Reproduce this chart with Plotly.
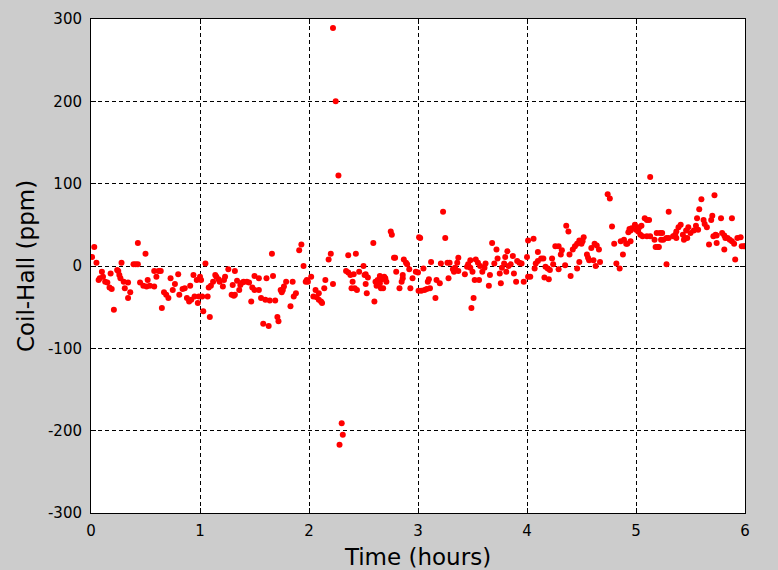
import plotly.graph_objects as go

# Time (hours) and Coil-Hall difference (ppm)
time_h = [
    0.01, 0.03, 0.05, 0.07, 0.08, 0.10, 0.11, 0.13, 0.15, 0.17, 0.18, 0.19, 0.21, 0.24, 0.25, 0.26, 0.27, 0.28,
    0.30, 0.31, 0.34, 0.34, 0.36, 0.39, 0.41, 0.43, 0.43, 0.45, 0.48, 0.50, 0.51, 0.52, 0.54, 0.58, 0.58, 0.60,
    0.62, 0.64, 0.65, 0.67, 0.69, 0.71, 0.73, 0.75, 0.77, 0.80, 0.81, 0.84, 0.86, 0.88, 0.90, 0.91, 0.92, 0.94,
    0.95, 0.97, 0.98,
    0.99, 1.00, 1.01, 1.02, 1.03, 1.05, 1.07, 1.08, 1.09, 1.10, 1.12, 1.14, 1.15, 1.17, 1.18, 1.21, 1.22, 1.23,
    1.26, 1.29, 1.30, 1.31, 1.32, 1.32, 1.34, 1.36, 1.37, 1.39, 1.40, 1.43, 1.45, 1.47, 1.48, 1.50, 1.50, 1.54,
    1.54, 1.56, 1.58, 1.60, 1.61, 1.63, 1.64, 1.66, 1.67, 1.69, 1.71, 1.72, 1.74, 1.75, 1.76, 1.77, 1.79, 1.83,
    1.85, 1.86, 1.88, 1.91, 1.93, 1.95, 1.97, 1.98,
    1.99, 2.02, 2.04, 2.06, 2.07, 2.09, 2.09, 2.11, 2.12, 2.14, 2.15, 2.18, 2.20, 2.22, 2.22, 2.245, 2.27, 2.28,
    2.30, 2.31, 2.34, 2.36, 2.36, 2.38, 2.39, 2.40, 2.41, 2.42, 2.43, 2.44, 2.46, 2.50, 2.51, 2.52, 2.52, 2.53,
    2.54, 2.59, 2.60, 2.61, 2.62, 2.63, 2.65, 2.65, 2.66, 2.67, 2.68, 2.69, 2.70, 2.71, 2.75, 2.76, 2.78, 2.79,
    2.80, 2.83, 2.85, 2.86, 2.86, 2.87, 2.89, 2.90, 2.92, 2.93, 2.95, 2.98,
    3.00, 3.01, 3.02, 3.005, 3.03, 3.05, 3.06, 3.08, 3.09, 3.10, 3.11, 3.12, 3.16, 3.17, 3.20, 3.21, 3.23, 3.25,
    3.27, 3.28, 3.29, 3.32, 3.33, 3.34, 3.36, 3.37, 3.37, 3.43, 3.45, 3.46, 3.48, 3.48, 3.49, 3.50, 3.51, 3.52,
    3.53, 3.55, 3.56, 3.57, 3.59, 3.61, 3.62, 3.65, 3.66, 3.68, 3.70, 3.72, 3.73, 3.75, 3.76, 3.77, 3.79, 3.80,
    3.81, 3.82, 3.83, 3.85, 3.87, 3.88, 3.90, 3.91, 3.93, 3.95, 3.97,
    4.00, 4.01, 4.01, 4.03, 4.06, 4.07, 4.08, 4.10, 4.10, 4.13, 4.15, 4.16, 4.17, 4.19, 4.20, 4.21, 4.23, 4.24,
    4.26, 4.29, 4.29, 4.31, 4.32, 4.35, 4.36, 4.38, 4.39, 4.40, 4.42, 4.44, 4.46, 4.46, 4.48, 4.48, 4.50, 4.51,
    4.52, 4.55, 4.56, 4.57, 4.59, 4.61, 4.62, 4.63, 4.64, 4.66, 4.67, 4.74, 4.76, 4.78, 4.80, 4.82, 4.85, 4.86,
    4.88, 4.89, 4.91, 4.92, 4.93, 4.94, 4.95, 4.95, 4.96, 4.99,
    5.00, 5.02, 5.03, 5.04, 5.05, 5.06, 5.08, 5.10, 5.10, 5.12, 5.13, 5.13, 5.17, 5.18, 5.19, 5.20, 5.21, 5.22,
    5.23, 5.24, 5.25, 5.28, 5.28, 5.30, 5.30, 5.34, 5.36, 5.37, 5.37, 5.39, 5.41, 5.43, 5.44, 5.45, 5.46, 5.47,
    5.48, 5.50, 5.53, 5.55, 5.56, 5.57, 5.58, 5.60, 5.62, 5.63, 5.65, 5.67, 5.69, 5.70, 5.71, 5.72, 5.73, 5.74,
    5.74, 5.78, 5.79, 5.81, 5.81, 5.82, 5.84, 5.86, 5.88, 5.88, 5.90, 5.91, 5.93, 5.96, 5.97, 5.99, 6.00,
]

coil_hall_ppm = [
    11, 23, 4, -17, -15, -7, -13, -19, -20, -26, -9, -28, -53, -5, -6, -11, -15, 4,
    -19, -27, -20, -39, -32, 2, 2, 2, 28, -20, -24, 15, -25, -17, -24, -6, -25, -13,
    -6, -6, -51, -32, -35, -39, -15, -29, -22, -10, -35, -28, -27, -39, -43, -24, -41, -11,
    -37, -17, -45,
    -37, -13, -17, -37, -55, 3, -37, -26, -62, -24, -19, -11, -13, -16, -19, -25, -17, -13,
    -4, -35, -23, -36, -35, -6, -18, -29, -23, -20, -19, -19, -20, -43, -26, -29, -12, -29,
    -15, -39, -70, -41, -15, -73, -42, 15, -12, -42, -62, -67, -29, -32, -29, -25, -19, -49,
    -19, -37, -33, 19, 26, 0, -19, -17,
    -19, -13, -37, -29, -38, -33, -41, -43, -45, -27, -17, 8, 15, -22, 289, 200, 110, -217,
    -191, -205, -6, 13, -8, -11, -27, -19, -10, -27, 15, -29, -7, 0, -11, -22, -10, -33,
    -14, 28, -43, -19, -24, -17, -21, -12, -27, -16, -27, -13, -15, -19, 42, 38, 10, 10,
    -7, -27, -19, -15, -11, 8, 4, 2, -4, -27, -15, -7,
    -8, 35, 34, -30, -30, -3, -29, -28, -19, -16, -27, 5, -39, -17, -21, 3, 66, 34,
    4, -15, 4, -4, -7, -2, 4, 10, -6, -10, -1, 2, 7, -2, -51, -7, -39, -17,
    8, 4, -17, 0, -7, -2, 3, -24, -11, 28, 3, 20, 9, -9, -21, -2, 3, 11,
    -7, 18, 0, 2, 12, -9, -19, 6, 4, 3, -19,
    11, 31, -13, -13, 33, -3, 3, 6, 17, 9, 9, -14, -1, -3, -16, -5, 9, 2,
    24, 24, -4, 14, 19, 1, 49, 42, 14, -12, 20, 24, -3, 27, 5, 31, 27, 30,
    35, 14, 10, 7, 22, 7, 27, 0, 25, 20, 5, 87, 82, 48, 27, 3, -3, 30,
    14, 32, 27, 27, 41, 45, 43, 30, 46, 50,
    44, 42, 47, 38, 49, 36, 58, 56, 36, 56, 36, 108, 32, 23, 40, 23, 23, 40,
    32, 40, 32, 34, 2, 34, 66, 36, 38, 42, 34, 47, 50, 38, 32, 34, 43, 34,
    47, 40, 43, 49, 58, 44, 69, 81, 56, 51, 47, 26, 56, 61, 36, 86, 38, 37,
    28, 58, 40, 20, 37, 34, 34, 32, 58, 30, 27, 8, 34, 35, 24, 24, 24,
]

x_ticks = [0, 1, 2, 3, 4, 5, 6]
y_ticks = [-300, -200, -100, 0, 100, 200, 300]

FONT = "DejaVu Sans"

fig = go.Figure(
    go.Scatter(
        x=time_h,
        y=coil_hall_ppm,
        mode="markers",
        marker=dict(color="#ff0000", size=6, line=dict(width=0)),
        showlegend=False,
    )
)

axis_common = dict(
    showline=True,
    linecolor="black",
    linewidth=1,
    mirror="ticks",
    ticks="inside",
    ticklen=5,
    tickcolor="black",
    showgrid=True,
    gridcolor="black",
    gridwidth=1,
    griddash="4px,3px",
    zeroline=False,
    tickfont=dict(family=FONT, size=15, color="black"),
)

fig.update_xaxes(
    range=[0, 6],
    tickvals=x_ticks,
    ticktext=[str(v) for v in x_ticks],
    ticklabelstandoff=4,
    title=dict(text="Time (hours)", font=dict(family=FONT, size=23, color="black"), standoff=10),
    **axis_common,
)
fig.update_yaxes(
    range=[-300, 300],
    tickvals=y_ticks,
    ticktext=[str(v) for v in y_ticks],
    ticklabelstandoff=5,
    title=dict(text="Coil-Hall (ppm)", font=dict(family=FONT, size=23, color="black"), standoff=6),
    **axis_common,
)

fig.update_layout(
    width=778,
    height=570,
    margin=dict(l=91, r=33, t=19, b=57, autoexpand=False),
    paper_bgcolor="#cccccc",
    plot_bgcolor="white",
    font=dict(family=FONT, color="black"),
)

fig.write_html("out.html")
